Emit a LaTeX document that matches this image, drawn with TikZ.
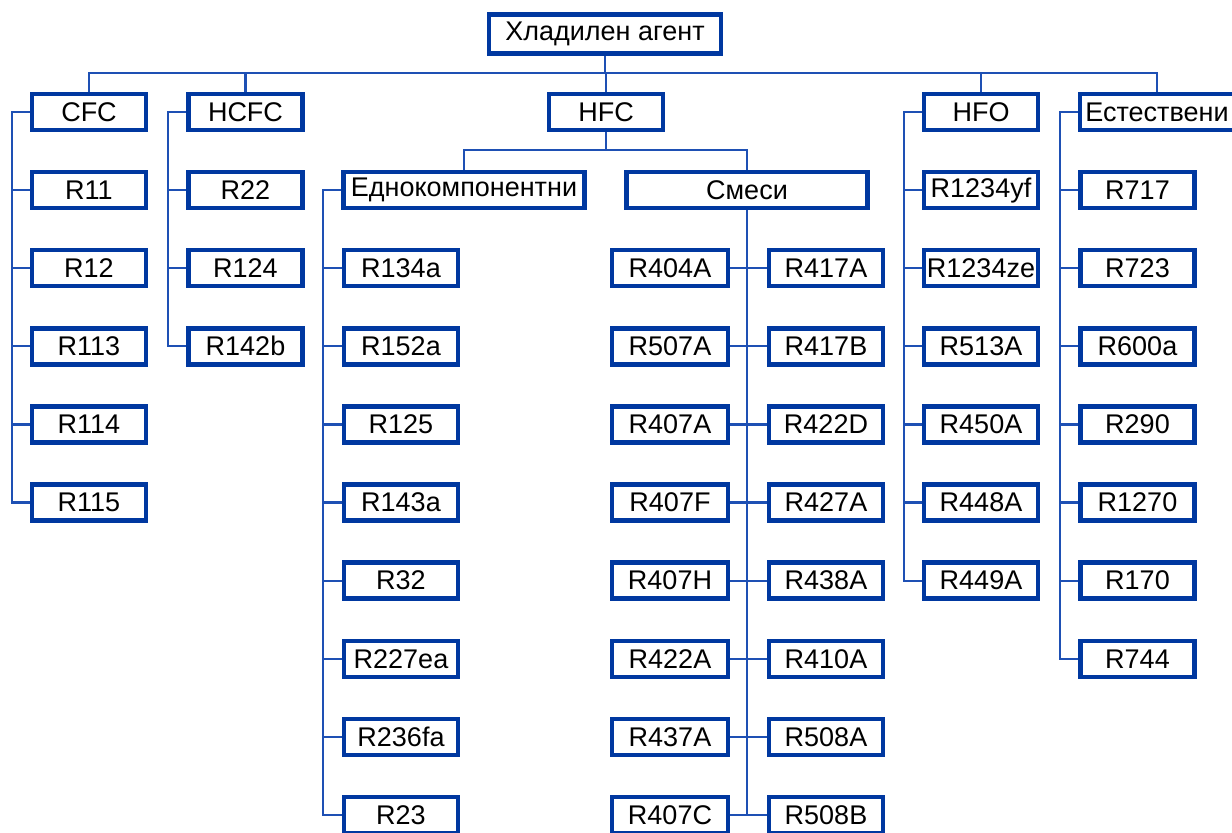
\documentclass[tikz,border=0pt]{standalone}
\usepackage{fontspec}
\setmainfont{Liberation Sans}
\usetikzlibrary{positioning}
\definecolor{boxblue}{RGB}{0,56,160}
\definecolor{lineblue}{RGB}{30,80,180}

\begin{document}
\begin{tikzpicture}[
  x=0.5pt,y=-0.5pt,
  font=\fontsize{13.5}{15}\selectfont,
  box/.style={rectangle,draw=boxblue,line width=2.2pt,fill=white,minimum width=57pt,minimum height=18pt,inner sep=0pt,align=center},
  groupbox/.style={box,minimum width=120.5pt},
  link/.style={draw=lineblue,line width=1.1pt},
]
\clip (0,0) rectangle (1232,832);

% Root
\node[box,minimum width=116pt,minimum height=19.5pt] (root) at (605,34) {Хладилен агент};
\coordinate (bus) at (605,73);

% Groups
\node[box] (cfc) at (89,112) {CFC};
\node[box] (hcfc) at (245.5,112) {HCFC};
\node[box] (hfc) at (606,112) {HFC};
\node[box] (hfo) at (981,112) {HFO};
\node[box,minimum width=77pt] (nat) at (1157,112) {Естествени};

\draw[link] (root.south) -- (bus);
\draw[link] (cfc.north) |- (bus) -| (nat.north);
\draw[link] (hcfc.north) -- (hcfc.north |- bus);
\draw[link] (hfc.north) -- (hfc.north |- bus);
\draw[link] (hfo.north) -- (hfo.north |- bus);

% HFC subgroups
\node[groupbox] (single) at (464,190) {Еднокомпонентни};
\node[groupbox] (mix) at (747,190) {Смеси};
\coordinate (hfcbus) at (606,150);
\draw[link] (hfc.south) -- (hfcbus);
\draw[link] (single.north) |- (hfcbus) -| (mix.north);

% CFC
\coordinate (cfcrail) at (12,112);
\foreach \name/\txt [count=\i] in {r11/R11,r12/R12,r113/R113,r114/R114,r115/R115}{
  \node[box] (\name) at (89,{112+78.1*\i}) {\txt};
  \draw[link] (\name.west) -- (\name.west -| cfcrail);
}
\draw[link] (cfc.west) -- (cfcrail) |- (r115.west);

% HCFC
\coordinate (hcfcrail) at (168,112);
\foreach \name/\txt [count=\i] in {r22/R22,r124/R124,r142b/R142b}{
  \node[box] (\name) at (245.5,{112+78.1*\i}) {\txt};
  \draw[link] (\name.west) -- (\name.west -| hcfcrail);
}
\draw[link] (hcfc.west) -- (hcfcrail) |- (r142b.west);

% Single component
\coordinate (singlerail) at (323,190);
\foreach \name/\txt [count=\i from 2] in {r134a/R134a,r152a/R152a,r125/R125,r143a/R143a,r32/R32,r227ea/R227ea,r236fa/R236fa,r23/R23}{
  \node[box] (\name) at (401,{112+78.1*\i}) {\txt};
  \draw[link] (\name.west) -- (\name.west -| singlerail);
}
\draw[link] (single.west) -- (singlerail) |- (r23.west);

% Blends
\foreach \lname/\ltxt/\rname/\rtxt [count=\i from 2] in {r404a/R404A/r417a/R417A,r507a/R507A/r417b/R417B,r407a/R407A/r422d/R422D,r407f/R407F/r427a/R427A,r407h/R407H/r438a/R438A,r422a/R422A/r410a/R410A,r437a/R437A/r508a/R508A,r407c/R407C/r508b/R508B}{
  \node[box,minimum width=58pt] (\lname) at (670,{112+78.1*\i}) {\ltxt};
  \node[box] (\rname) at (826,{112+78.1*\i}) {\rtxt};
  \draw[link] (\lname.east) -- (\rname.west);
}
\draw[link] (mix.south) -- (mix.south |- r407c.east);

% HFO
\coordinate (hforail) at (904,112);
\foreach \name/\txt [count=\i] in {r1234yf/R1234yf,r1234ze/R1234ze,r513a/R513A,r450a/R450A,r448a/R448A,r449a/R449A}{
  \node[box] (\name) at (981,{112+78.1*\i}) {\txt};
  \draw[link] (\name.west) -- (\name.west -| hforail);
}
\draw[link] (hfo.west) -- (hforail) |- (r449a.west);

% Natural
\coordinate (natrail) at (1060,112);
\foreach \name/\txt [count=\i] in {r717/R717,r723/R723,r600a/R600a,r290/R290,r1270/R1270,r170/R170,r744/R744}{
  \node[box] (\name) at (1137.5,{112+78.1*\i}) {\txt};
  \draw[link] (\name.west) -- (\name.west -| natrail);
}
\draw[link] (nat.west) -- (natrail) |- (r744.west);

\end{tikzpicture}
\end{document}
